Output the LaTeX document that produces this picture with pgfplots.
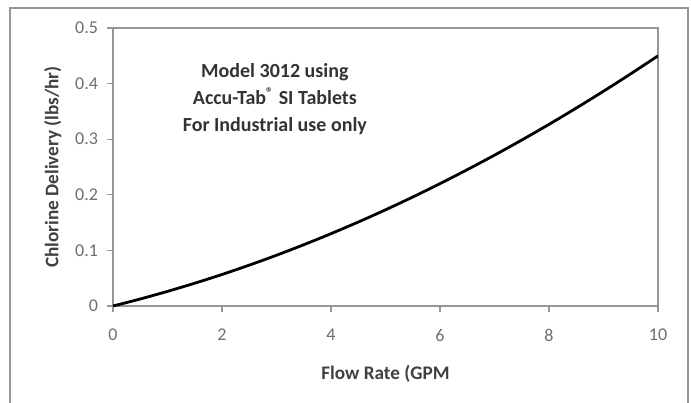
\documentclass[border=0pt]{standalone}
\usepackage{pgfplots}
\pgfplotsset{compat=1.18}
\usepackage{fontspec}
\setmainfont{Carlito}
\definecolor{ticktext}{RGB}{110,110,110}
\definecolor{framegray}{RGB}{150,150,150}
\begin{document}
\begin{tikzpicture}[font=\fontsize{9}{10.8}\selectfont]
  % page = 691 x 402 px at 0.5pt per px; axis box at px (113..658, 28..306)
  \useasboundingbox (-56.5pt,-48pt) rectangle (289pt,153pt);
  \draw[framegray, line width=0.8pt] (-51.5pt,-60pt) -- (-51.5pt,149pt) -- (287.5pt,149pt) -- (287.5pt,-60pt);
  \begin{axis}[
      at={(0,0)}, anchor=south west,
      scale only axis,
      width=272.5pt, height=139pt,
      xmin=0, xmax=10, ymin=0, ymax=0.5,
      xtick={0,2,...,10}, ytick={0,0.1,...,0.5},
      yticklabels={0,0.1,0.2,0.3,0.4,0.5},
      tick align=outside,
      major tick length=3pt,
      tick style={framegray, line width=0.6pt},
      axis line style={framegray, line width=0.7pt},
      ticklabel style={text=ticktext, font=\fontsize{9}{10.8}\selectfont},
      /pgf/number format/assume math mode=true,
      xticklabel style={yshift=-5pt},
      yticklabel style={xshift=-1pt},
      xtick pos=bottom, ytick pos=left,
      xlabel={\bfseries Flow Rate (GPM},
      ylabel={\bfseries Chlorine Delivery (lbs/hr)},
      label style={font=\fontsize{9.6}{11}\selectfont},
      xlabel style={text=black!75, yshift=-5pt},
      ylabel style={text=black!75, yshift=0pt},
    ]
    \addplot[black, line width=1.4pt, smooth] coordinates {
      (0,0) (0.5,0.0126) (1,0.0263) (1.5,0.0410) (2,0.0567) (2.5,0.0735)
      (3,0.0913) (3.5,0.1102) (4,0.1301) (4.5,0.1510) (5,0.1730)
      (5.5,0.1960) (6,0.2201) (6.5,0.2452) (7,0.2713) (7.5,0.2985)
      (8,0.3267) (8.5,0.3560) (9,0.3863) (9.5,0.4176) (10,0.4500)
    };
    \node[align=center, font=\fontsize{10}{13.5}\selectfont\bfseries, text=black!80]
      at (axis cs:2.97,0.372) {Model 3012 using\\Accu-Tab\textsuperscript{\textregistered} SI Tablets\\For Industrial use only};
  \end{axis}
\end{tikzpicture}
\end{document}
